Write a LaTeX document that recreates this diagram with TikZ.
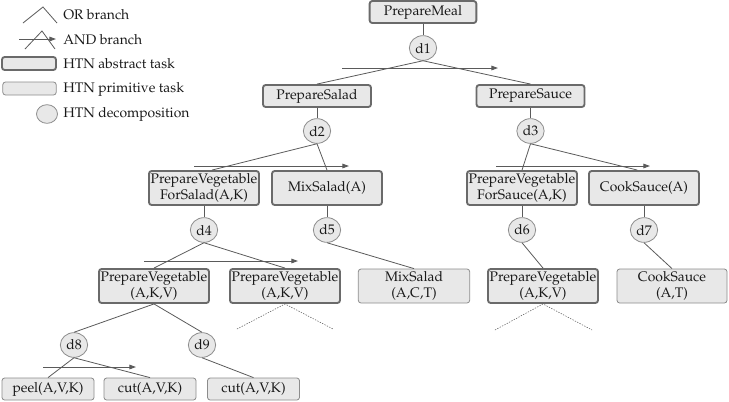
\documentclass[tikz,border=0pt]{standalone}
\usepackage[T1]{fontenc}
\usepackage{mathpazo}
\usetikzlibrary{arrows.meta,shapes.geometric}
\definecolor{boxfill}{HTML}{E8E8E8}
\definecolor{absborder}{HTML}{6A6A6A}
\definecolor{primborder}{HTML}{8C8C8C}
\definecolor{linecol}{HTML}{5A5A5A}
\begin{document}
\begin{tikzpicture}[x=0.75pt,y=-0.75pt,
  every node/.style={font=\fontsize{10.4}{12.3}\selectfont, text=black!90},
  abstask/.style={draw=absborder, line width=1.4pt, fill=boxfill, rounded corners=2pt,
    align=center, inner sep=1pt, minimum width=82.5pt, minimum height=16.5pt},
  twoline/.style={minimum height=25.5pt},
  primtask/.style={abstask, draw=primborder, line width=0.6pt},
  leaf/.style={primtask, minimum width=69pt},
  dec/.style={ellipse, draw=primborder, fill=boxfill, line width=0.6pt,
    minimum width=20.5pt, minimum height=18.5pt, inner sep=0pt},
  conn/.style={draw=linecol, line width=0.6pt},
  andarrow/.style={draw=linecol, line width=0.7pt, -{Triangle[length=5pt,width=3.5pt]}},
  cont/.style={draw=linecol, line width=0.4pt, dash pattern=on 1pt off 1pt},
  legtext/.style={anchor=west, inner sep=0pt}
]
\useasboundingbox (0,0) rectangle (729,401);

% ---------- legend ----------
\coordinate (orL) at (23,23); \coordinate (orT) at (43,7); \coordinate (orR) at (57,23);
\draw[conn] (orL) -- (orT) -- (orR);
\node[legtext] (torb) at (63,15) {OR branch};
\coordinate (anL) at (25,49); \coordinate (anT) at (42,31); \coordinate (anR) at (55,49);
\draw[conn] (anL) -- (anT) -- (anR);
\coordinate (anA) at (19,39); \coordinate (anB) at (56,39);
\draw[andarrow] (anA) -- (anB);
\node[legtext] (tand) at (63,40) {AND branch};
\node[abstask, minimum width=40.5pt, minimum height=9.75pt, inner sep=0pt] (labs) at (29,63.5) {};
\node[legtext] (tabs) at (63,64) {HTN abstract task};
\node[primtask, minimum width=40pt, minimum height=9.75pt, inner sep=0pt] (lprim) at (29.5,88.5) {};
\node[legtext] (tprim) at (63,89) {HTN primitive task};
\node[dec, minimum width=15.75pt, minimum height=14pt] (ldec) at (47,114) {};
\node[legtext] (tdec) at (63,114) {HTN decomposition};

% ---------- tree nodes ----------
\node[abstask, minimum width=80pt] (pm) at (423,12) {PrepareMeal};
\node[dec] (d1) at (423,48) {d1};
\node[abstask, minimum width=81pt] (psal) at (317,96) {PrepareSalad};
\node[abstask, minimum width=81pt] (psau) at (530.5,96) {PrepareSauce};
\node[dec] (d2) at (317,131) {d2};
\node[dec] (d3) at (530.5,131) {d3};
\node[abstask, twoline] (pvfsal) at (204,188) {PrepareVegetable\\ForSalad(A,K)};
\node[abstask, twoline] (mixa) at (327,188) {MixSalad(A)};
\node[abstask, twoline] (pvfsau) at (522,188) {PrepareVegetable\\ForSauce(A,K)};
\node[abstask, twoline] (cooka) at (644,188) {CookSauce(A)};
\node[dec] (d4) at (204,230) {d4};
\node[dec] (d5) at (327,230) {d5};
\node[dec] (d6) at (522,230) {d6};
\node[dec] (d7) at (644,230) {d7};
\node[abstask, twoline] (pv1) at (154,286) {PrepareVegetable\\(A,K,V)};
\node[abstask, twoline] (pv2) at (285,286) {PrepareVegetable\\(A,K,V)};
\node[primtask, twoline, minimum width=83.5pt] (mixact) at (414,286) {MixSalad\\(A,C,T)};
\node[abstask, twoline] (pv3) at (543,286) {PrepareVegetable\\(A,K,V)};
\node[primtask, twoline] (cookat) at (672,286) {CookSauce\\(A,T)};
\node[dec] (d8) at (74,345) {d8};
\node[dec] (d9) at (202,345) {d9};
\node[leaf] (peel) at (48,389) {peel(A,V,K)};
\node[leaf] (cut1) at (150,389) {cut(A,V,K)};
\node[leaf] (cut2) at (253.5,389) {cut(A,V,K)};

% ---------- connectors ----------
\draw[conn] (pm) -- (d1);
\draw[conn] (d1.south) -- (psal.north);
\draw[conn] (d1.south) -- (psau.north);
\draw[conn] (psal) -- (d2);
\draw[conn] (psau) -- (d3);
\draw[conn] (d2.south) -- ([xshift=6pt]pvfsal.north);
\draw[conn] (d2.south) -- (mixa.north);
\draw[conn] (d3.south) -- (pvfsau.north);
\draw[conn] (d3.south) -- ([xshift=-5pt]cooka.north);
\draw[conn] (pvfsal) -- (d4);
\draw[conn] (mixa) -- (d5);
\draw[conn] (pvfsau) -- (d6);
\draw[conn] (cooka) -- (d7);
\draw[conn] (d4.south) -- (pv1.north);
\draw[conn] (d4.south) -- (pv2.north);
\draw[conn] (d5.south) -- (mixact.north);
\draw[conn] (d6.south) -- (pv3.north);
\draw[conn] (d7.south) -- (cookat.north);
\draw[conn] (pv1.south) -- (d8.north);
\draw[conn] (pv1.south) -- (d9.north);
\draw[conn] (d8.south) -- (peel.north);
\draw[conn] (d8.south) -- (cut1.north);
\draw[conn] (d9.south) -- (cut2.north);

% continuation (dotted)
\coordinate (c2l) at (237,329); \coordinate (c2r) at (333,329);
\coordinate (c3l) at (495,330); \coordinate (c3r) at (592,330);
\draw[cont] (c2l) -- (pv2.south) -- (c2r);
\draw[cont] (c3l) -- (pv3.south) -- (c3r);

% AND arrows
\coordinate (a1s) at (342,68);  \coordinate (a1e) at (498,68);
\coordinate (a2s) at (194,166); \coordinate (a2e) at (349,166);
\coordinate (a3s) at (496,166); \coordinate (a3e) at (650,166);
\coordinate (a4s) at (144,261); \coordinate (a4e) at (298,261);
\coordinate (a8s) at (43,367);  \coordinate (a8e) at (136,367);
\draw[andarrow] (a1s) -- (a1e);
\draw[andarrow] (a2s) -- (a2e);
\draw[andarrow] (a3s) -- (a3e);
\draw[andarrow] (a4s) -- (a4e);
\draw[andarrow] (a8s) -- (a8e);
\end{tikzpicture}
\end{document}
